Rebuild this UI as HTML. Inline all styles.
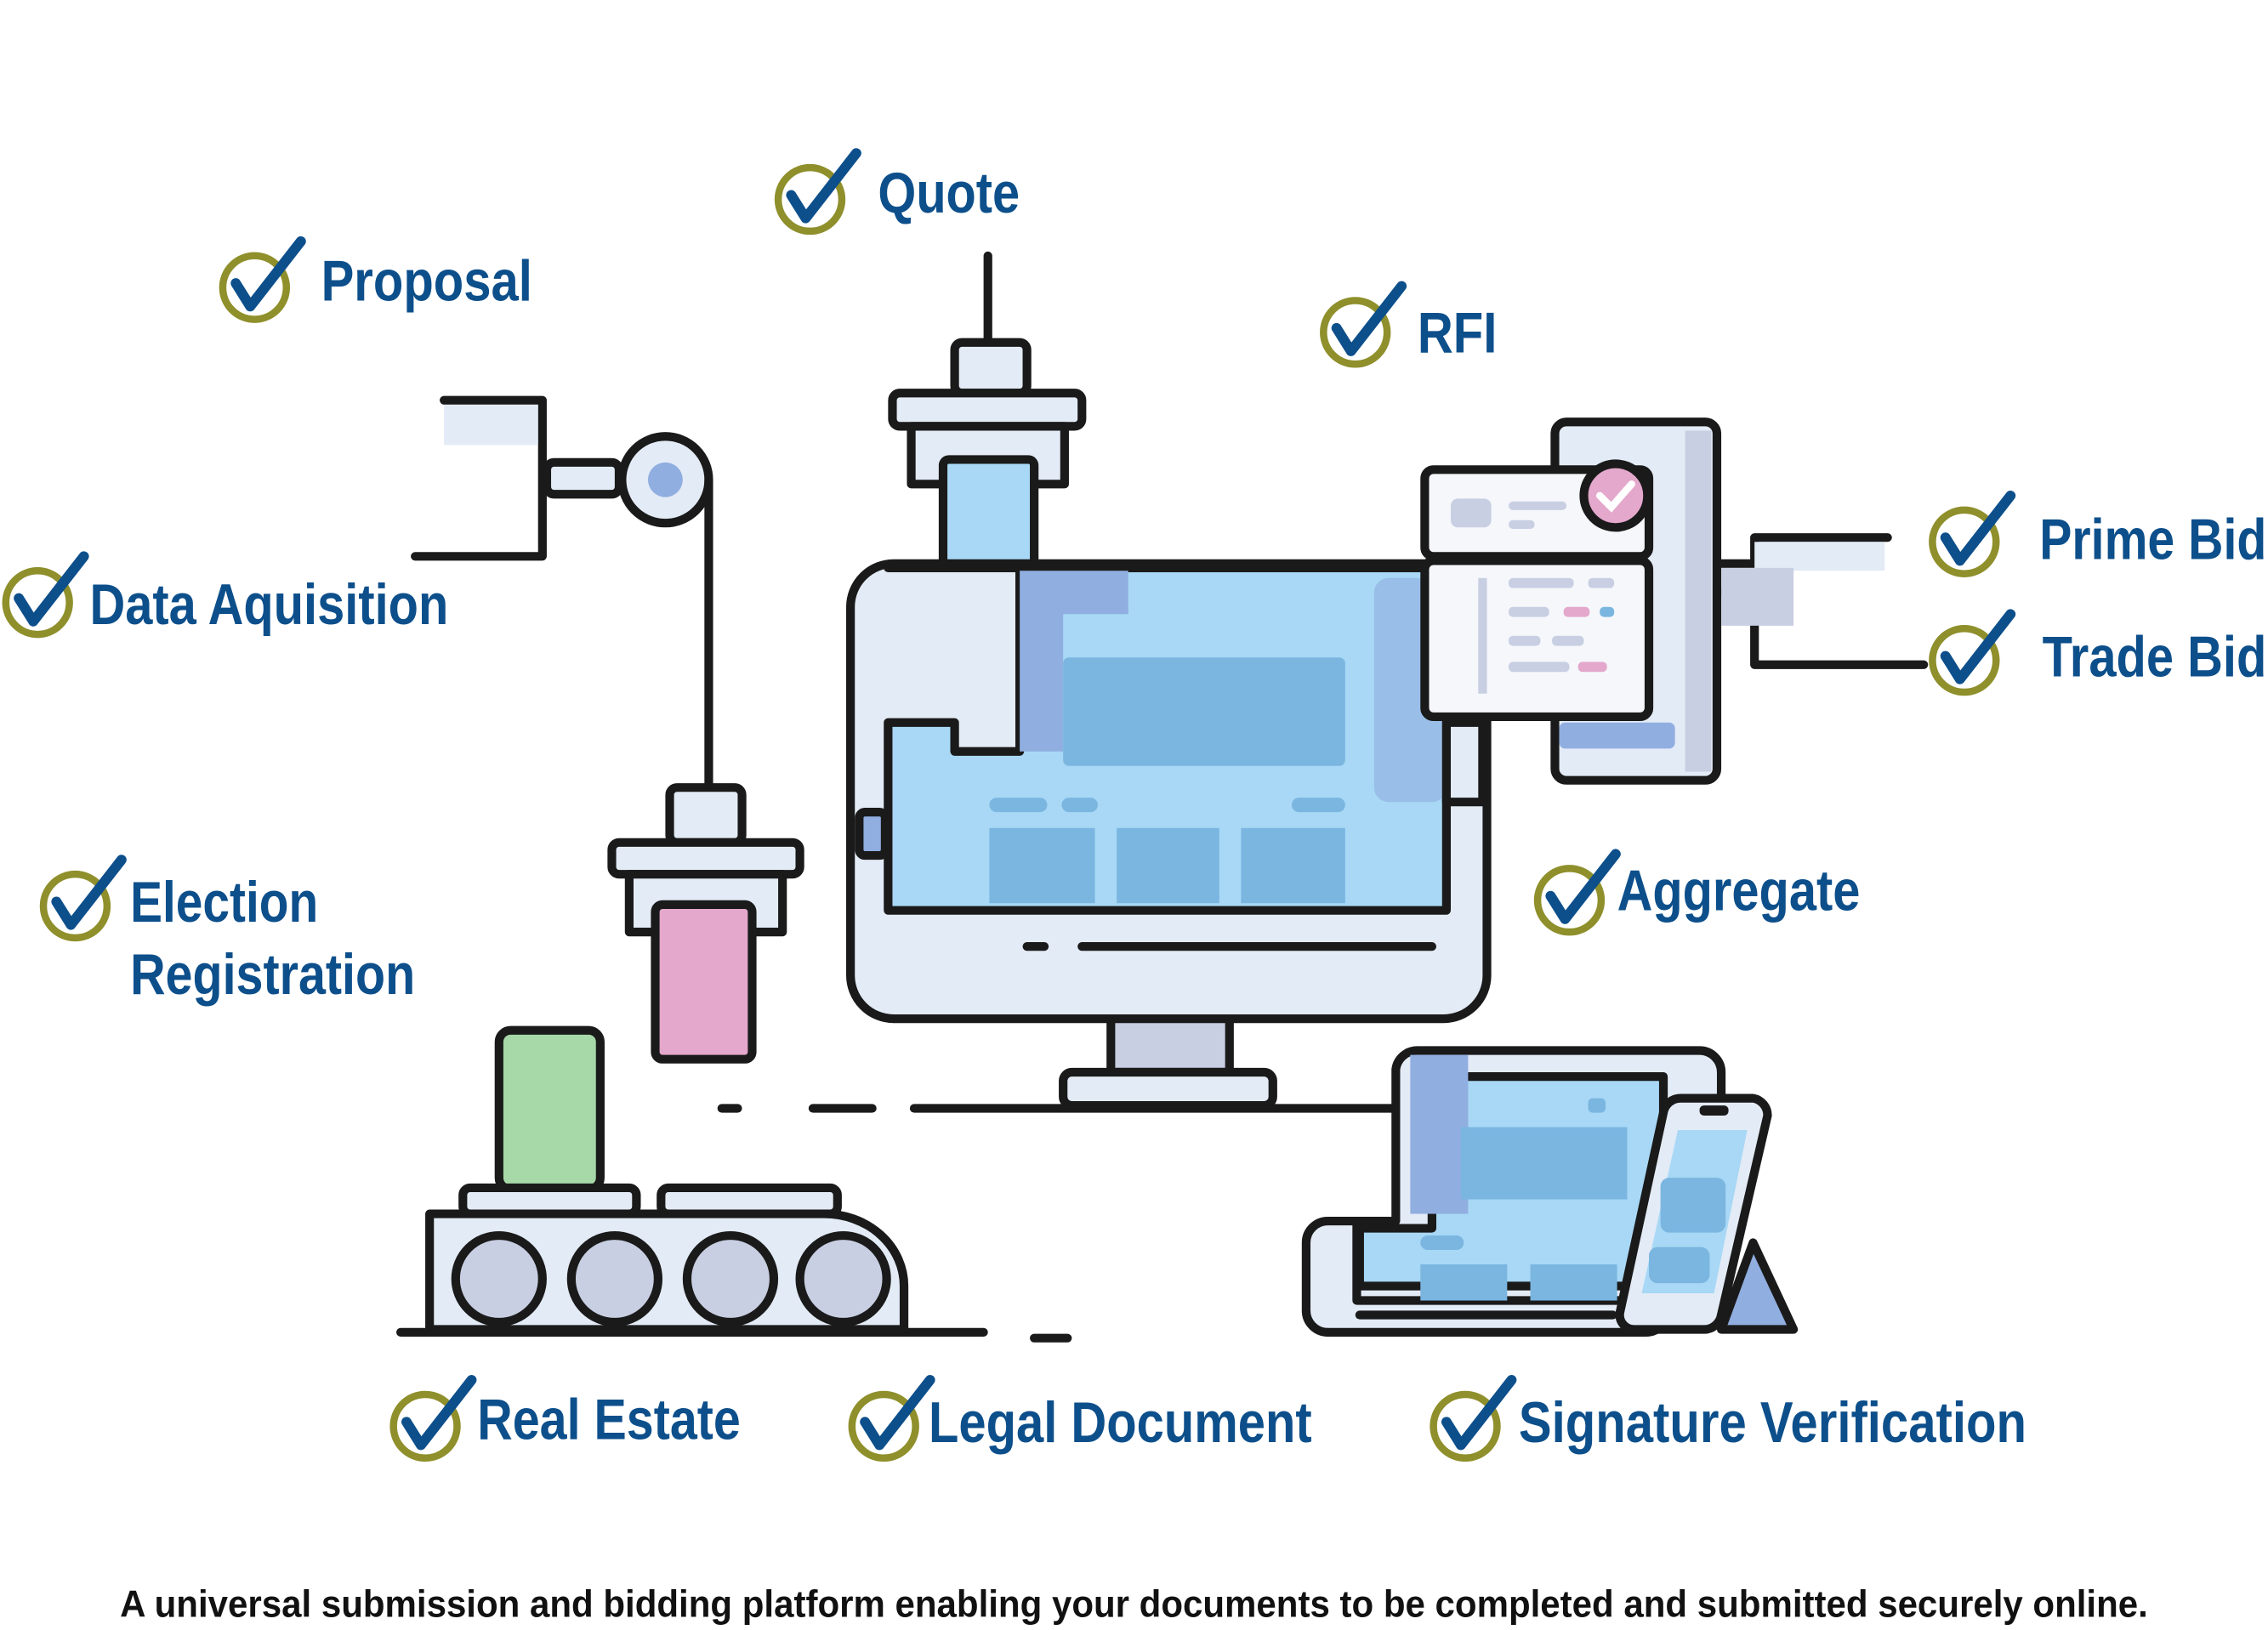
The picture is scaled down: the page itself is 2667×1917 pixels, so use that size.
<!DOCTYPE html>
<html><head><meta charset="utf-8"><style>
html,body{margin:0;padding:0;background:#fff}
svg{display:block}
.l{font-family:"Liberation Sans Narrow","Liberation Sans",sans-serif;font-weight:bold;fill:#0d4f8b;font-size:40px}
.c{font-family:"Liberation Sans Narrow","Liberation Sans",sans-serif;font-weight:bold;fill:#111;font-size:26px}
.k{stroke:#1a1a1a;stroke-width:6;stroke-linejoin:round;stroke-linecap:round}
</style></head><body>
<svg width="2667" height="1917" viewBox="0 0 1568 1128" preserveAspectRatio="none" xmlns="http://www.w3.org/2000/svg">
<defs>
<g id="ck">
<circle cx="0" cy="0" r="22" fill="none" stroke="#8f8f2c" stroke-width="5"/>
<path d="M-13,-3 L-3,13 L32,-32" fill="none" stroke="#0d4f8b" stroke-width="7" stroke-linecap="round" stroke-linejoin="round"/>
</g>
</defs>

<!-- Quote dispenser -->
<line x1="683" y1="177" x2="683" y2="240" class="k"/>
<rect x="660" y="237" width="50" height="35" rx="5" fill="#e3ebf6" class="k"/>
<rect x="617" y="272" width="131" height="23" rx="5" fill="#e3ebf6" class="k"/>
<rect x="630" y="295" width="106" height="40" fill="#e3ebf6" class="k"/>
<rect x="652" y="318" width="63" height="100" rx="4" fill="#a8d8f5" class="k"/>

<!-- Monitor -->
<rect x="588" y="390" width="440" height="315" rx="30" fill="#e3ebf6" class="k"/>
<path d="M614,393 H1000 V630 H614 V500 H660 V520 H705 V393 Z" fill="#a8d8f5" class="k"/>
<path d="M705,395 H780 V425 H735 V520 H705 Z" fill="#90aee0"/>
<rect x="735" y="455" width="195" height="75" rx="4" fill="#7ab6e0"/>
<rect x="684" y="573" width="73" height="52" fill="#7ab6e0"/>
<rect x="772" y="573" width="71" height="52" fill="#7ab6e0"/>
<rect x="858" y="573" width="72" height="52" fill="#7ab6e0"/>
<rect x="684" y="552" width="40" height="10" rx="5" fill="#7ab6e0"/>
<rect x="734" y="552" width="25" height="10" rx="5" fill="#7ab6e0"/>
<rect x="893" y="552" width="37" height="10" rx="5" fill="#7ab6e0"/>
<rect x="950" y="400" width="50" height="155" rx="10" fill="#90aee0" opacity=".6"/>
<rect x="594" y="562" width="18" height="30" rx="4" fill="#90aee0" class="k"/>
<line x1="710" y1="655" x2="722" y2="655" class="k"/>
<line x1="748" y1="655" x2="990" y2="655" class="k"/>
<rect x="768" y="705" width="82" height="37" fill="#c8cfe2" class="k"/>
<rect x="735" y="742" width="145" height="23" rx="6" fill="#e3ebf6" class="k"/>
<line x1="632" y1="767" x2="970" y2="767" class="k"/>
<line x1="499" y1="767" x2="510" y2="767" class="k"/>
<line x1="562" y1="767" x2="603" y2="767" class="k"/>

<!-- Left arm -->
<path d="M307,277 H375 V385 H287" fill="none" class="k"/>
<rect x="307" y="280" width="65" height="28" fill="#e3ebf6"/>
<rect x="378" y="320" width="50" height="22" rx="5" fill="#e3ebf6" class="k"/>
<circle cx="460" cy="332" r="30" fill="#e3ebf6" class="k"/>
<circle cx="460" cy="332" r="12" fill="#90aee0"/>
<line x1="490" y1="332" x2="490" y2="545" class="k"/>
<rect x="463" y="545" width="50" height="38" rx="5" fill="#e3ebf6" class="k"/>
<rect x="423" y="583" width="130" height="22" rx="5" fill="#e3ebf6" class="k"/>
<rect x="435" y="605" width="106" height="40" fill="#e3ebf6" class="k"/>
<rect x="453" y="626" width="67" height="107" rx="5" fill="#e4a8cc" class="k"/>

<!-- Conveyor -->
<rect x="345" y="713" width="70" height="110" rx="8" fill="#a6d8a8" class="k"/>
<rect x="320" y="822" width="120" height="18" rx="5" fill="#e3ebf6" class="k"/>
<rect x="457" y="822" width="122" height="18" rx="5" fill="#e3ebf6" class="k"/>
<path d="M297,840 H570 A55,50 0 0 1 625,890 V920 H297 Z" fill="#e3ebf6" class="k"/>
<circle cx="345" cy="885" r="30" fill="#c8cfe2" class="k"/>
<circle cx="425" cy="885" r="30" fill="#c8cfe2" class="k"/>
<circle cx="505" cy="885" r="30" fill="#c8cfe2" class="k"/>
<circle cx="583" cy="885" r="30" fill="#c8cfe2" class="k"/>
<line x1="277" y1="922" x2="680" y2="922" class="k"/>
<line x1="715" y1="926" x2="738" y2="926" class="k"/>

<!-- Right panel -->
<rect x="1075" y="292" width="112" height="248" rx="8" fill="#e3ebf6" class="k"/>
<rect x="1165" y="298" width="18" height="236" fill="#c8cfe2"/>
<rect x="985" y="325" width="155" height="60" rx="6" fill="#f5f7fb" class="k"/>
<rect x="1003" y="345" width="28" height="20" rx="5" fill="#c8cfe2"/>
<rect x="1043" y="347" width="40" height="6" rx="3" fill="#c8cfe2"/>
<rect x="1043" y="360" width="18" height="6" rx="3" fill="#c8cfe2"/>
<circle cx="1117" cy="343" r="22" fill="#e4a8cc" class="k"/>
<path d="M1106,343 L1114,351 L1128,335" fill="none" stroke="#fff" stroke-width="5" stroke-linecap="round"/>
<rect x="985" y="388" width="155" height="108" rx="6" fill="#f5f7fb" class="k"/>
<rect x="1022" y="400" width="6" height="80" fill="#c8cfe2"/>
<rect x="1043" y="400" width="45" height="7" rx="3" fill="#c8cfe2"/>
<rect x="1098" y="400" width="18" height="7" rx="3" fill="#c8cfe2"/>
<rect x="1043" y="420" width="28" height="7" rx="3" fill="#c8cfe2"/>
<rect x="1081" y="420" width="18" height="7" rx="3" fill="#e4a8cc"/>
<rect x="1106" y="420" width="10" height="7" rx="3" fill="#7ab6e0"/>
<rect x="1043" y="440" width="22" height="7" rx="3" fill="#c8cfe2"/>
<rect x="1073" y="440" width="22" height="7" rx="3" fill="#c8cfe2"/>
<rect x="1043" y="458" width="42" height="7" rx="3" fill="#c8cfe2"/>
<rect x="1091" y="458" width="20" height="7" rx="3" fill="#e4a8cc"/>
<rect x="1078" y="500" width="80" height="18" rx="4" fill="#90aee0"/>
<rect x="1000" y="500" width="25" height="55" fill="#e3ebf6" class="k"/>
<path d="M1190,390 H1213 V372 H1305" fill="none" class="k"/>
<path d="M1190,410 H1213 V460 H1330" fill="none" class="k"/>
<rect x="1213" y="375" width="90" height="20" fill="#e3ebf6"/>
<rect x="1190" y="393" width="50" height="40" fill="#c8cfe2"/>

<!-- Tablet & phone -->
<rect x="903" y="845" width="250" height="77" rx="15" fill="#e3ebf6" class="k"/>
<path d="M965,740 A15,15 0 0 1 980,727 H1175 A15,15 0 0 1 1190,742 V900 H938 V845 H965 Z" fill="#e3ebf6" class="k"/>
<path d="M990,745 H1150 V890 H940 V850 H990 Z" fill="#a8d8f5" class="k"/>
<rect x="975" y="730" width="40" height="110" fill="#90aee0"/>
<rect x="1010" y="780" width="115" height="50" fill="#7ab6e0"/>
<rect x="982" y="875" width="60" height="25" fill="#7ab6e0"/>
<rect x="1058" y="875" width="60" height="25" fill="#7ab6e0"/>
<rect x="982" y="855" width="30" height="10" rx="5" fill="#7ab6e0"/>
<rect x="1098" y="760" width="12" height="10" rx="3" fill="#7ab6e0"/>
<path d="M1212,860 L1240,920 H1190 Z" fill="#90aee0" class="k"/>
<path d="M1150,770 A12,12 0 0 1 1162,760 H1212 A12,12 0 0 1 1222,772 L1190,910 A12,12 0 0 1 1178,920 H1130 A10,10 0 0 1 1120,908 Z" fill="#e3ebf6" class="k"/>
<path d="M1160,782 H1208 L1185,895 H1135 Z" fill="#a8d8f5"/>
<rect x="1148" y="815" width="45" height="38" rx="6" fill="#7ab6e0"/>
<rect x="1140" y="863" width="42" height="25" rx="6" fill="#7ab6e0"/>
<rect x="1175" y="765" width="20" height="7" rx="3" fill="#1a1a1a"/>
<line x1="940" y1="910" x2="1115" y2="910" class="k"/>

<!-- Labels -->
<use href="#ck" x="176" y="199"/><text class="l" x="222" y="208" textLength="146" lengthAdjust="spacingAndGlyphs">Proposal</text>
<use href="#ck" x="560" y="138"/><text class="l" x="607" y="147" textLength="98" lengthAdjust="spacingAndGlyphs">Quote</text>
<use href="#ck" x="937" y="230"/><text class="l" x="980" y="244" textLength="55" lengthAdjust="spacingAndGlyphs">RFI</text>
<use href="#ck" x="26" y="417"/><text class="l" x="62" y="432" textLength="248" lengthAdjust="spacingAndGlyphs">Data Aquisition</text>
<use href="#ck" x="52" y="627"/><text class="l" x="90" y="638" textLength="130" lengthAdjust="spacingAndGlyphs">Election</text>
<text class="l" x="90" y="688" textLength="197" lengthAdjust="spacingAndGlyphs">Registration</text>
<use href="#ck" x="1358" y="375"/><text class="l" x="1410" y="387" textLength="157" lengthAdjust="spacingAndGlyphs">Prime Bid</text>
<use href="#ck" x="1358" y="457"/><text class="l" x="1412" y="468" textLength="155" lengthAdjust="spacingAndGlyphs">Trade Bid</text>
<use href="#ck" x="1085" y="623"/><text class="l" x="1118" y="630" textLength="168" lengthAdjust="spacingAndGlyphs">Aggregate</text>
<use href="#ck" x="294" y="987"/><text class="l" x="330" y="996" textLength="182" lengthAdjust="spacingAndGlyphs">Real Estate</text>
<use href="#ck" x="611" y="987"/><text class="l" x="642" y="998" textLength="265" lengthAdjust="spacingAndGlyphs">Legal Document</text>
<use href="#ck" x="1013" y="987"/><text class="l" x="1050" y="998" textLength="351" lengthAdjust="spacingAndGlyphs">Signature Verification</text>

<text class="c" x="83" y="1119" textLength="1402" lengthAdjust="spacingAndGlyphs">A universal submission and bidding platform enabling your documents to be completed and submitted securely online.</text>
</svg>
</body></html>
